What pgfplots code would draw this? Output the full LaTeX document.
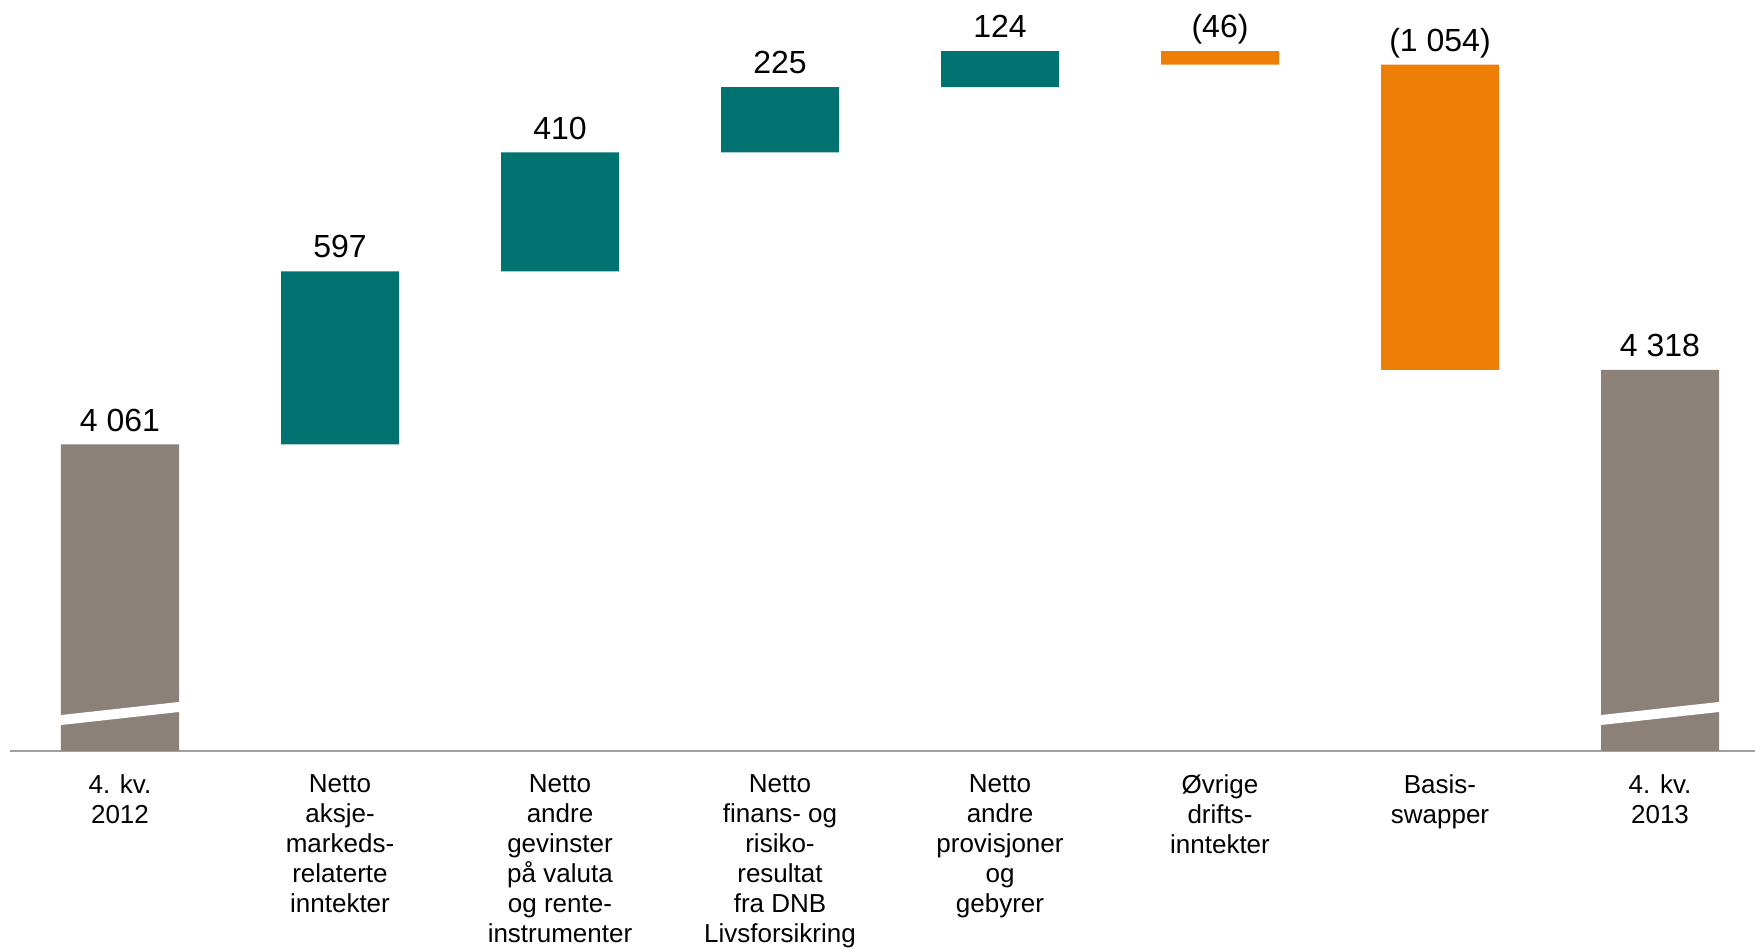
\documentclass[border=0pt]{standalone}
\usepackage{fontspec}
\setmainfont{Liberation Sans}
\usepackage{pgfplots}
\pgfplotsset{compat=1.18}
\definecolor{dnbgray}{RGB}{139,129,120}
\definecolor{dnbteal}{RGB}{0,115,112}
\definecolor{dnborange}{RGB}{237,127,7}
\definecolor{axisgray}{RGB}{160,160,160}
\pgfplotsset{wfgeom/.style={
  at={(5pt,99.65pt)}, anchor=south west,
  scale only axis, width=880pt, height=375.35pt,
  xmin=-0.5, xmax=7.5, ymin=3005, ymax=5593.6}}
\begin{document}
\begin{tikzpicture}
\useasboundingbox (0,0) rectangle (877.5pt,475pt);
\begin{axis}[
  wfgeom,
  ybar stacked, bar width=59pt,
  axis x line*=bottom, axis y line=none,
  x axis line style={draw=axisgray, line width=1pt, -},
  xtick={0,...,7}, xtick style={draw=none}, major tick length=0pt,
  xticklabels={{4. kv.\\2012},
    {Netto\\aksje-\\markeds-\\relaterte\\inntekter},
    {Netto\\andre\\gevinster\\på valuta\\og rente-\\instrumenter},
    {Netto\\finans- og\\risiko-\\resultat\\fra DNB\\Livsforsikring},
    {Netto\\andre\\provisjoner\\og\\gebyrer},
    {Øvrige\\drifts-\\inntekter},
    {Basis-\\swapper},
    {4. kv.\\2013}},
  xticklabel style={font=\fontsize{13}{15}\selectfont, align=center, anchor=north, yshift=-8.6pt},
  ytick=\empty,
]
% invisible base of each floating bar
\addplot[draw=none, fill=none] coordinates {
  (0,0) (1,4061) (2,4658) (3,5068) (4,5293) (5,5371) (6,4318) (7,0)};
% totals (grey)
\addplot[draw=none, fill=dnbgray] coordinates {
  (0,4061) (1,0) (2,0) (3,0) (4,0) (5,0) (6,0) (7,4318)};
% increases (teal)
\addplot[draw=none, fill=dnbteal] coordinates {
  (0,0) (1,597) (2,410) (3,225) (4,124) (5,0) (6,0) (7,0)};
% decreases (orange)
\addplot[draw=none, fill=dnborange] coordinates {
  (0,0) (1,0) (2,0) (3,0) (4,0) (5,46) (6,1053) (7,0)};
\end{axis}
\begin{axis}[
  wfgeom, hide axis, clip=false,
  every node near coord/.append style={font=\fontsize{16}{19}\selectfont, text=black, inner sep=0pt, text depth=0pt, anchor=south, yshift=6.5pt},
]
% value labels at the top of each bar
\addplot[draw=none, mark=none, nodes near coords, point meta=explicit symbolic] coordinates {
  (0,4061) [4 061] (1,4658) [597] (2,5068) [410] (3,5293) [225]
  (4,5417) [124] (5,5417) [(46)] (6,5371) [(1 054)] (7,4318) [4 318]};
% axis-break marks on the total bars
\fill[white] (axis cs:-0.3,3090.9) -- (axis cs:0.3,3141.2) -- (axis cs:0.3,3175.7) -- (axis cs:-0.3,3125.3) -- cycle;
\fill[white] (axis cs:6.7,3090.9) -- (axis cs:7.3,3141.2) -- (axis cs:7.3,3175.7) -- (axis cs:6.7,3125.3) -- cycle;
\end{axis}
\end{tikzpicture}
\end{document}
